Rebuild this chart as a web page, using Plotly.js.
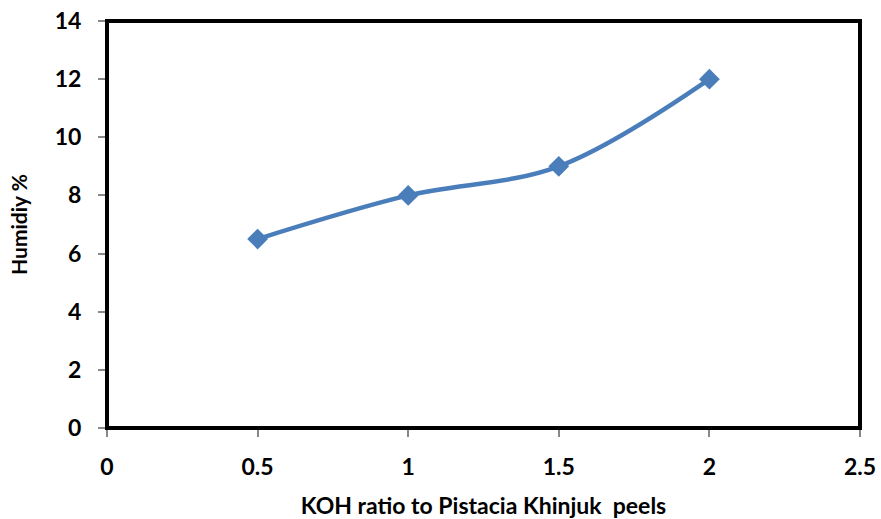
<!DOCTYPE html>
<html>
<head>
<meta charset="utf-8">
<script src="https://cdn.plot.ly/plotly-3.0.1.min.js"></script>
<style>html,body{margin:0;padding:0;background:#fff;}#chart{width:881px;height:519px;}</style>
</head>
<body>
<div id="chart"></div>
<script>
const kohRatio = [0.5, 1, 1.5, 2];
const humidity = [6.5, 8, 9, 12];
const xTicks = [0, 0.5, 1, 1.5, 2, 2.5];
const xTickLabels = ['0', '0.5', '1', '1.5', '2', '2.5'];
const yTicks = [0, 2, 4, 6, 8, 10, 12, 14];

const fontFam = 'Lato, "Open Sans", sans-serif';
const trace = {
  x: kohRatio, y: humidity, type: 'scatter', mode: 'lines+markers',
  line: {color: '#4a7ebb', width: 4.5, shape: 'spline', smoothing: 1},
  marker: {symbol: 'diamond', size: 16, color: '#4a7ebb'},
  hoverinfo: 'none'
};
const layout = {
  width: 881, height: 519,
  margin: {l: 107, r: 21, t: 21, b: 91},
  paper_bgcolor: '#fff', plot_bgcolor: '#fff',
  showlegend: false,
  font: {family: fontFam, color: '#000'},
  xaxis: {
    range: [0, 2.5], tickvals: xTicks, ticktext: xTickLabels,
    showgrid: false, zeroline: false, showline: true, linecolor: '#888', linewidth: 2,
    ticks: 'outside', ticklen: 7, tickcolor: '#888', tickwidth: 2,
    tickfont: {size: 23, family: fontFam, weight: 'bold'}, ticklabelstandoff: 10,
    title: {text: '<b>KOH ratio to Pistacia Khinjuk&nbsp; peels</b>', font: {size: 23, family: fontFam}, standoff: 19}
  },
  yaxis: {
    range: [0, 14], tickvals: yTicks,
    showgrid: false, zeroline: false, showline: true, linecolor: '#888', linewidth: 2,
    ticks: 'outside', ticklen: 7, tickcolor: '#888', tickwidth: 2,
    tickfont: {size: 23, family: fontFam, weight: 'bold'}, ticklabelstandoff: 12,
    title: {text: '<b>Humidiy %</b>', font: {size: 21, family: fontFam}, standoff: 21}
  },
  shapes: [{
    type: 'rect', xref: 'paper', yref: 'paper', x0: 0, x1: 1, y0: 0, y1: 1,
    line: {color: '#000', width: 4}, layer: 'above'
  }]
};
Plotly.newPlot('chart', [trace], layout, {displayModeBar: false, staticPlot: true});
</script>
</body>
</html>
